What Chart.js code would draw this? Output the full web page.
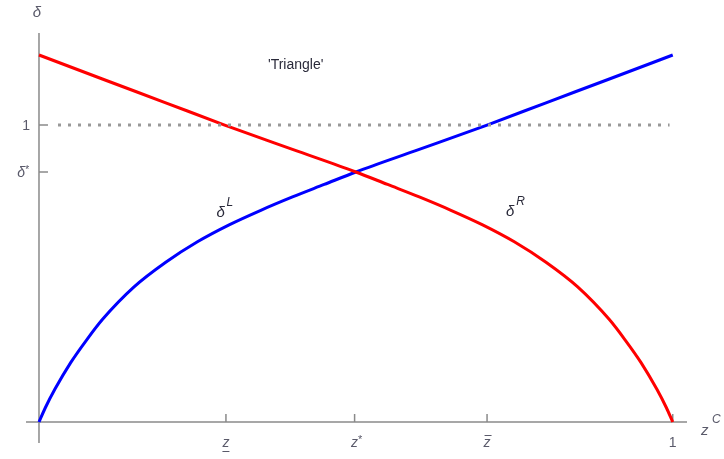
<!DOCTYPE html>
<html>
<head>
<meta charset="utf-8">
<script src="https://cdn.jsdelivr.net/npm/chart.js@4"></script>
<style>
  html, body { margin: 0; padding: 0; background: #fff; }
  #wrap { width: 724px; height: 459px; }
</style>
</head>
<body>
<div id="wrap"><canvas id="chart"></canvas></div>
<script>
// delta^L curve (blue)
const leftZ = [0, 0.01, 0.025, 0.05, 0.075, 0.1, 0.15, 0.2, 0.25, 0.3, 0.35, 0.4, 0.45, 0.5, 0.6, 0.707, 0.8, 0.9, 1.0];
const leftDelta = [0, 0.048, 0.11, 0.2, 0.276, 0.345, 0.455, 0.538, 0.607, 0.664, 0.713, 0.758, 0.8, 0.842, 0.918, 1.0, 1.075, 1.155, 1.236];

// delta^R curve (red)
const rightZ = [0, 0.1, 0.2, 0.293, 0.4, 0.5, 0.55, 0.6, 0.65, 0.7, 0.75, 0.8, 0.85, 0.9, 0.925, 0.95, 0.975, 0.99, 1.0];
const rightDelta = [1.236, 1.155, 1.075, 1.0, 0.918, 0.842, 0.8, 0.758, 0.713, 0.664, 0.607, 0.538, 0.455, 0.345, 0.276, 0.2, 0.11, 0.048, 0];

// dotted level delta = 1
const levelZ = [0.03, 0.995];
const levelDelta = [1, 1];

const xTickValues = [0.295, 0.498, 0.707, 1];
const xTickLabels = ['z', 'z', 'z', '1'];
const xTickMarks = ['under', 'star', 'over', ''];
const yTickValues = [0.842, 1];
const yTickLabels = ['δ', '1'];
const yTickMarks = ['star', ''];

const toPoints = (xs, ys) => xs.map((x, i) => ({ x: x, y: ys[i] }));

const axisColor = '#8a8a8a';
const labelColor = '#5a5a6a';
const FONT = '"Liberation Sans", Arial, sans-serif';

const mathAxes = {
  id: 'mathAxes',
  beforeDatasetsDraw(chart) {
    const ctx = chart.ctx;
    const xs = chart.scales.x, ys = chart.scales.y;
    const x0 = xs.getPixelForValue(0), y0 = ys.getPixelForValue(0);
    const area = chart.chartArea;
    ctx.save();
    ctx.strokeStyle = axisColor;
    ctx.lineWidth = 1.5;
    ctx.beginPath();
    ctx.moveTo(area.left, y0); ctx.lineTo(area.right, y0);
    ctx.moveTo(x0, area.top); ctx.lineTo(x0, area.bottom);
    xTickValues.forEach(v => {
      const px = xs.getPixelForValue(v);
      ctx.moveTo(px, y0); ctx.lineTo(px, y0 - 8);
    });
    yTickValues.forEach(v => {
      const py = ys.getPixelForValue(v);
      ctx.moveTo(x0, py); ctx.lineTo(x0 + 9, py);
    });
    ctx.stroke();
    ctx.restore();
  },
  afterDraw(chart) {
    const ctx = chart.ctx;
    const xs = chart.scales.x, ys = chart.scales.y;
    const x0 = xs.getPixelForValue(0), y0 = ys.getPixelForValue(0);
    ctx.save();
    ctx.fillStyle = labelColor;
    ctx.strokeStyle = labelColor;
    ctx.textBaseline = 'alphabetic';

    // x tick labels
    xTickValues.forEach((v, i) => {
      const px = xs.getPixelForValue(v);
      const italic = xTickLabels[i] !== '1';
      ctx.font = (italic ? 'italic ' : '') + '14px ' + FONT;
      ctx.textAlign = 'center';
      ctx.fillText(xTickLabels[i], px, y0 + 25);
      const w = ctx.measureText(xTickLabels[i]).width;
      ctx.lineWidth = 1;
      if (xTickMarks[i] === 'under') {
        ctx.beginPath(); ctx.moveTo(px - w / 2, y0 + 29.5); ctx.lineTo(px + w / 2, y0 + 29.5); ctx.stroke();
      } else if (xTickMarks[i] === 'over') {
        ctx.beginPath(); ctx.moveTo(px - w / 2 + 1, y0 + 13.5); ctx.lineTo(px + w / 2 + 1, y0 + 13.5); ctx.stroke();
      } else if (xTickMarks[i] === 'star') {
        ctx.font = '11px ' + FONT;
        ctx.textAlign = 'left';
        ctx.fillText('*', px + w / 2, y0 + 21);
      }
    });

    // y tick labels
    yTickValues.forEach((v, i) => {
      const py = ys.getPixelForValue(v);
      const italic = yTickLabels[i] !== '1';
      ctx.font = (italic ? 'italic ' : '') + '14px ' + FONT;
      if (yTickMarks[i] === 'star') {
        ctx.textAlign = 'right';
        ctx.fillText(yTickLabels[i], x0 - 14, py + 5);
        ctx.font = '11px ' + FONT;
        ctx.textAlign = 'left';
        ctx.fillText('*', x0 - 14, py + 1);
      } else {
        ctx.textAlign = 'right';
        ctx.fillText(yTickLabels[i], x0 - 9, py + 5);
      }
    });

    // axis names
    ctx.font = 'italic 15px ' + FONT;
    ctx.textAlign = 'center';
    ctx.fillText('δ', x0 - 2, 17);
    ctx.textAlign = 'left';
    ctx.fillText('z', 701, y0 + 13);
    ctx.font = 'italic 12px ' + FONT;
    ctx.fillText('C', 712, y0 + 1);

    // annotations
    ctx.fillStyle = '#2a2a3a';
    ctx.font = '14px ' + FONT;
    ctx.textAlign = 'center';
    ctx.fillText("'Triangle'", xs.getPixelForValue(0.405), ys.getPixelForValue(1.19));

    ctx.textAlign = 'left';
    ctx.font = 'italic 15px ' + FONT;
    ctx.fillText('δ', xs.getPixelForValue(0.28), ys.getPixelForValue(0.69));
    ctx.fillText('δ', xs.getPixelForValue(0.737), ys.getPixelForValue(0.694));
    ctx.font = 'italic 12px ' + FONT;
    ctx.fillText('L', xs.getPixelForValue(0.296), ys.getPixelForValue(0.728));
    ctx.fillText('R', xs.getPixelForValue(0.753), ys.getPixelForValue(0.732));
    ctx.restore();
  }
};

new Chart(document.getElementById('chart'), {
  type: 'scatter',
  data: {
    datasets: [
      {
        label: 'level',
        data: toPoints(levelZ, levelDelta),
        showLine: true,
        borderColor: '#999999',
        borderWidth: 3,
        borderDash: [3, 7],
        pointRadius: 0
      },
      {
        label: 'deltaR',
        data: toPoints(rightZ, rightDelta),
        showLine: true,
        borderColor: '#ff0000',
        borderWidth: 3,
        pointRadius: 0,
        cubicInterpolationMode: 'monotone'
      },
      {
        label: 'deltaL',
        data: toPoints(leftZ, leftDelta),
        showLine: true,
        borderColor: '#0000ff',
        borderWidth: 3,
        pointRadius: 0,
        cubicInterpolationMode: 'monotone'
      }
    ]
  },
  options: {
    responsive: true,
    maintainAspectRatio: false,
    animation: false,
    layout: { padding: { left: 26, right: 37, top: 33, bottom: 16 } },
    plugins: { legend: { display: false }, tooltip: { enabled: false } },
    scales: {
      x: { type: 'linear', display: false, min: -0.0205, max: 1.0225 },
      y: { type: 'linear', display: false, min: -0.0707, max: 1.31 }
    }
  },
  plugins: [mathAxes]
});
</script>
</body>
</html>
